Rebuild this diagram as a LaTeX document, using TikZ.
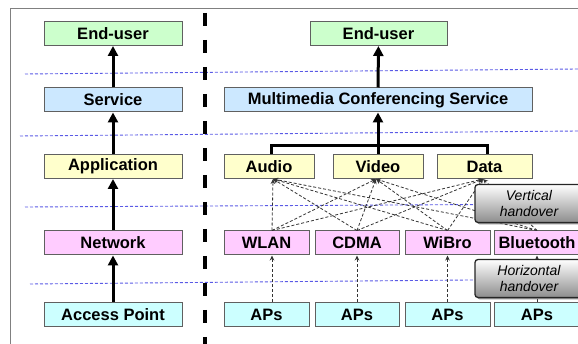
\documentclass[tikz,border=0pt]{standalone}
\usepackage{fontspec}
\setmainfont{Liberation Sans}
\usetikzlibrary{arrows.meta,shadows}
\definecolor{cgreen}{HTML}{CCFFCC}
\definecolor{cblue}{HTML}{CCE8FF}
\definecolor{cyellow}{HTML}{FFFFCC}
\definecolor{cpink}{HTML}{FFCCFF}
\definecolor{ccyan}{HTML}{CCFFFF}
\definecolor{cborder}{HTML}{606060}
\definecolor{cguide}{HTML}{5A5AE6}
\tikzset{
  layerbox/.style={draw=cborder, line width=1pt, minimum height=24pt, inner sep=0pt,
    font=\fontsize{16.5}{18}\selectfont\bfseries},
  fatarrow/.style={line width=3pt, -{Triangle[width=10pt,length=10pt]}},
  fatline/.style={line width=3pt},
  thinarrow/.style={draw=black!80, line width=0.8pt, dash pattern=on 3pt off 2pt,
    -{Stealth[length=5pt,width=4.5pt]}},
  guide/.style={draw=cguide, line width=0.9pt, dash pattern=on 3pt off 2pt},
  handbox/.style={draw=black!85, line width=1.3pt, rounded corners=3pt,
    top color=white, bottom color=black!45, minimum width=108pt, minimum height=38pt,
    align=center, inner sep=0pt, font=\fontsize{14}{16}\selectfont\itshape,
    drop shadow={shadow xshift=2pt, shadow yshift=-2pt, fill=black!55, opacity=0.8}},
}
\begin{document}
\begin{tikzpicture}[x=1pt,y=-1pt]
\useasboundingbox (0,0) rectangle (578,344);
\clip (0,0) rectangle (578,344);
\fill[white] (0,0) rectangle (578,344);
% frame
\draw[draw=black!50, line width=1.5pt] (10.5,344) -- (10.5,8.5) -- (578,8.5);
% guide lines
\draw[guide] (25,74) -- (578,69);
\draw[guide] (20,136) -- (578,131);
\draw[guide] (25,207) -- (578,204);
\draw[guide] (30,284) -- (578,279);
% divider
\draw[line width=3.5pt, dash pattern=on 13pt off 14pt] (205,13) -- (205,344);
% left column
\node[layerbox, fill=cgreen, minimum width=138pt] (eu1) at (113,33.5) {End-user};
\node[layerbox, fill=cblue, minimum width=138pt] (svc1) at (113,100) {Service};
\node[layerbox, fill=cyellow, minimum width=138pt] (app1) at (113,166.5) {Application};
\node[layerbox, fill=cpink, minimum width=138pt] (net1) at (113,243) {Network};
\node[layerbox, fill=ccyan, minimum width=138pt] (ap1) at (113,314.5) {Access Point};
\draw[fatarrow] (svc1) -- (eu1);
\draw[fatarrow] (app1) -- (svc1);
\draw[fatarrow] (net1) -- (app1);
\draw[fatarrow] (ap1) -- (net1);
% right column
\node[layerbox, fill=cgreen, minimum width=137pt] (eu2) at (378.5,33.5) {End-user};
\node[layerbox, fill=cblue, minimum width=308pt] (mcs) at (378,100) {Multimedia Conferencing Service};
\node[layerbox, fill=cyellow, minimum width=90pt] (audio) at (269,166.5) {Audio};
\node[layerbox, fill=cyellow, minimum width=90pt] (video) at (378,166.5) {Video};
\node[layerbox, fill=cyellow, minimum width=95pt] (data) at (484.5,166.5) {Data};
\node[layerbox, fill=cpink, minimum width=85pt] (wlan) at (266.5,243) {WLAN};
\node[layerbox, fill=cpink, minimum width=84pt] (cdma) at (357,243) {CDMA};
\node[layerbox, fill=cpink, minimum width=85pt] (wibro) at (447.5,243) {WiBro};
\node[layerbox, fill=cpink, minimum width=86pt] (bt) at (537,243) {Bluetooth};
\node[layerbox, fill=ccyan, minimum width=85pt] (ap2) at (266.5,314.5) {APs};
\node[layerbox, fill=ccyan, minimum width=84pt] (ap3) at (357,314.5) {APs};
\node[layerbox, fill=ccyan, minimum width=85pt] (ap4) at (447.5,314.5) {APs};
\node[layerbox, fill=ccyan, minimum width=86pt] (ap5) at (537,314.5) {APs};
\draw[fatarrow] (mcs) -- (eu2);
\draw[fatline] ([xshift=2pt]audio.north) -- ++(0,-8) -| ([xshift=3pt]data.north);
\draw[fatarrow] (video.north) -- (mcs.south);
% tips and starts
\coordinate (ta) at ([xshift=4pt]audio.south);
\coordinate (tv) at ([xshift=-2pt]video.south);
\coordinate (td) at ([xshift=-1.5pt]data.south);
\coordinate (sw) at ([xshift=5.5pt]wlan.north);
\coordinate (sc) at (cdma.north);
\coordinate (sb) at (wibro.north);
\coordinate (sl) at (bt.north);
\foreach \s in {sw,sc,sb,sl}{
  \foreach \t in {ta,tv,td}{
    \draw[thinarrow] (\s) -- (\t);
  }
}
\draw[thinarrow] ([xshift=5.5pt]ap2.north) -- ([xshift=5.5pt]wlan.south);
\draw[thinarrow] (ap3.north) -- (cdma.south);
\draw[thinarrow] (ap4.north) -- (wibro.south);
\draw[thinarrow] (ap5.north) -- (bt.south);
% handover boxes
\node[handbox] (vh) at (529,203.5) {Vertical\\handover};
\node[handbox] (hh) at (529,278.5) {Horizontal\\handover};
\end{tikzpicture}
\end{document}
